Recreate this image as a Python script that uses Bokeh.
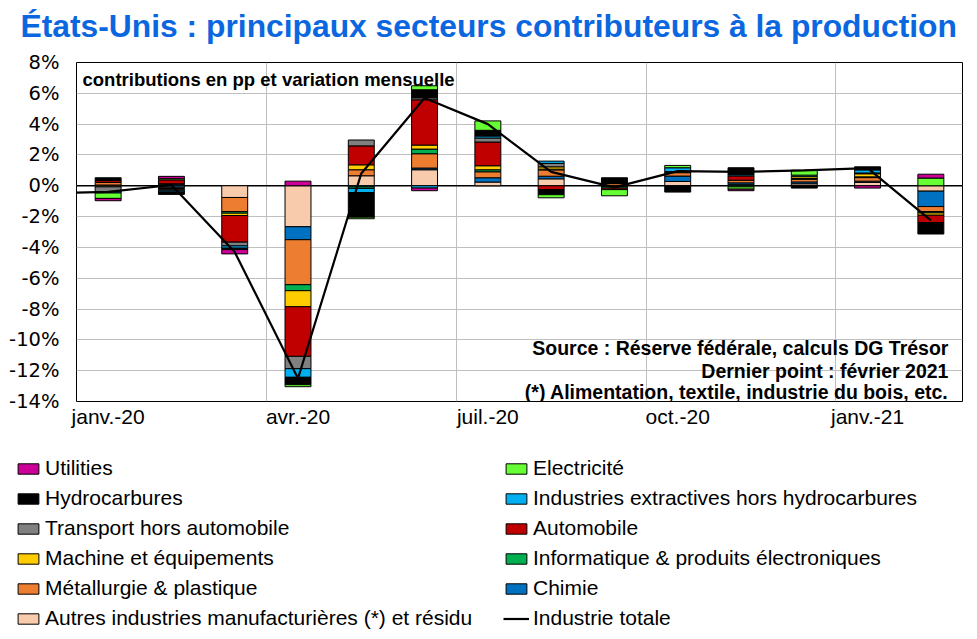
from bokeh.plotting import figure
from bokeh.layouts import column
from bokeh.models import (ColumnDataSource, Range1d, FixedTicker, Label, Legend,
                          LegendItem, Span)
from bokeh.embed import file_html
from bokeh.resources import INLINE
import numpy as np

# ---------------- data ----------------
months = ["janv.-20", "févr.-20", "mars-20", "avr.-20", "mai-20", "juin-20", "juil.-20",
          "août-20", "sept.-20", "oct.-20", "nov.-20", "déc.-20", "janv.-21", "févr.-21"]

autres       = [0.05, 0.10, -0.76, -2.66, 0.65, 1.04, 0.24, 0.45, 0.03, 0.28, 0.07, 0.13, 0.22, -0.35]
chimie       = [0.00, -0.10, 0.00, -0.84, -0.07, 0.11, 0.28, 0.17, -0.05, 0.35, 0.12, 0.12, 0.08, -1.00]
metallurgie  = [0.17, -0.08, -0.91, -2.92, 0.39, 0.93, 0.39, 0.41, 0.12, 0.22, 0.17, 0.17, 0.23, -0.32]
informatique = [0.00, 0.03, -0.11, -0.39, -0.10, 0.30, 0.13, 0.05, -0.10, 0.07, -0.07, 0.05, 0.05, -0.09]
machine      = [-0.07, -0.05, -0.15, -1.04, 0.32, 0.26, 0.26, 0.15, 0.00, 0.00, 0.00, 0.12, 0.20, -0.15]
automobile   = [0.12, 0.25, -1.73, -3.22, 1.23, 2.94, 1.54, -0.25, -0.10, 0.00, 0.28, 0.00, 0.05, -0.48]
transport    = [-0.32, -0.10, -0.24, -0.80, 0.38, 0.13, 0.26, 0.22, 0.00, 0.00, 0.00, 0.00, 0.00, 0.00]
extractives  = [-0.08, -0.08, -0.15, -0.56, -0.27, -0.15, 0.13, 0.15, 0.00, 0.25, 0.08, 0.10, 0.20, 0.00]
hydrocarbures = [0.18, -0.15, -0.09, -0.48, -1.60, 0.52, 0.37, -0.33, 0.37, -0.41, 0.45, -0.15, 0.20, -0.74]
electricite  = [-0.35, 0.08, 0.00, -0.13, -0.10, 0.26, 0.61, -0.20, -0.40, 0.15, -0.15, 0.32, 0.00, 0.50]
utilities    = [-0.15, 0.15, -0.28, 0.30, 0.00, -0.17, 0.00, 0.00, 0.00, 0.00, -0.10, 0.00, -0.15, 0.25]

total_prev = -0.5   # déc.-19
total = [-0.40, 0.05, -4.30, -12.50, 0.80, 5.70, 4.00, 0.90, -0.10, 0.95, 0.90, 1.00, 1.15, -2.25]

y_ticks = [-14, -12, -10, -8, -6, -4, -2, 0, 2, 4, 6, 8]

# stacking order (closest to zero first)
series = [
    ("Autres industries manufacturières (*) et résidu", autres, "#F8CBAD"),
    ("Chimie", chimie, "#0070C0"),
    ("Métallurgie & plastique", metallurgie, "#ED7D31"),
    ("Informatique & produits électroniques", informatique, "#00B050"),
    ("Machine et équipements", machine, "#FFCC00"),
    ("Automobile", automobile, "#C00000"),
    ("Transport hors automobile", transport, "#808080"),
    ("Industries extractives hors hydrocarbures", extractives, "#00B0F0"),
    ("Hydrocarbures", hydrocarbures, "#000000"),
    ("Electricité", electricite, "#66FF33"),
    ("Utilities", utilities, "#CC0099"),
]
colors = {name: c for name, _, c in series}

W = 970


def no_align(fig):
    try:
        fig.frame_align = False
    except Exception:
        pass


# ---------------- title ----------------
pt = figure(width=W, height=50, x_range=Range1d(0, W), y_range=Range1d(0, 50),
            output_backend="svg", toolbar_location=None, min_border=0,
            x_axis_location=None, y_axis_location=None)
no_align(pt)
pt.grid.visible = False
pt.outline_line_color = None
pt.add_layout(Label(x=20, y=25, text="États-Unis : principaux secteurs contributeurs à la production",
                    text_font="Liberation Sans", text_font_style="bold", text_font_size="31.8px",
                    text_color="#0B67E0", text_baseline="alphabetic"))

# ---------------- main chart ----------------
p = figure(width=W, height=400, x_range=Range1d(-0.5, 13.5), y_range=Range1d(-14, 8),
           output_backend="svg", toolbar_location=None,
           min_border_left=76, min_border_right=8, min_border_top=12, min_border_bottom=49)
no_align(p)
p.background_fill_color = "white"
p.border_fill_color = "white"
p.outline_line_color = "black"
p.outline_line_width = 1

p.ygrid.ticker = FixedTicker(ticks=y_ticks)
p.ygrid.grid_line_color = "#BFBFBF"
p.ygrid.grid_line_width = 1
p.xgrid.ticker = FixedTicker(ticks=[2.5, 5.5, 8.5, 11.5])
p.xgrid.grid_line_color = "#BFBFBF"
p.xgrid.grid_line_width = 1

p.yaxis.ticker = FixedTicker(ticks=y_ticks)
p.yaxis.major_label_overrides = {t: f"{t}%" for t in y_ticks}
p.yaxis.major_label_text_font = "DejaVu Sans"
p.yaxis.major_label_text_font_size = "19.5px"
p.yaxis.major_label_text_color = "black"
p.yaxis.axis_line_color = None
p.yaxis.major_tick_line_color = None
p.yaxis.minor_tick_line_color = None
p.yaxis.major_tick_out = 0
p.yaxis.major_tick_in = 0
p.yaxis.major_label_standoff = 17

xt = list(range(0, len(months), 3))
p.xaxis.ticker = FixedTicker(ticks=xt)
p.xaxis.major_label_overrides = {i: months[i] for i in xt}
p.xaxis.major_label_text_font = "Liberation Sans"
p.xaxis.major_label_text_font_size = "21px"
p.xaxis.major_label_text_color = "black"
p.xaxis.axis_line_color = None
p.xaxis.major_tick_line_color = None
p.xaxis.minor_tick_line_color = None
p.xaxis.major_tick_out = 0
p.xaxis.major_tick_in = 0
p.xaxis.major_label_standoff = 3

p.add_layout(Span(location=0, dimension="width", line_color="black", line_width=1.5,
                  level="underlay"))

n = len(months)
xs = np.arange(n)
pos = np.zeros(n)
neg = np.zeros(n)
for name, vals, color in series:
    v = np.array(vals, dtype=float)
    bottom = np.where(v >= 0, pos, neg)
    top = bottom + v
    pos = np.where(v >= 0, pos + v, pos)
    neg = np.where(v < 0, neg + v, neg)
    m = v != 0
    src = ColumnDataSource(dict(x=xs[m], bottom=bottom[m], top=top[m]))
    p.vbar(x="x", bottom="bottom", top="top", width=0.41, source=src,
           fill_color=color, line_color="black", line_width=1)

lx = np.concatenate([[-1], xs])
ly = np.concatenate([[total_prev], total])
p.line(lx, ly, line_color="black", line_width=2.2)

p.add_layout(Label(x=-0.405, y=6.9, text="contributions en pp et variation mensuelle",
                   text_font="Liberation Sans", text_font_style="bold", text_font_size="18.5px",
                   text_color="black", text_baseline="alphabetic"))
notes = ["Source : Réserve fédérale, calculs DG Trésor",
         "Dernier point : février 2021",
         "(*) Alimentation, textile, industrie du bois, etc."]
for txt, yy in zip(notes, [-10.56, -11.99, -13.41]):
    p.add_layout(Label(x=13.278, y=yy, text=txt, text_font="Liberation Sans",
                       text_font_style="bold", text_font_size="19.5px", text_color="black",
                       text_align="right", text_baseline="alphabetic"))

# ---------------- legend ----------------
pl = figure(width=W, height=189, x_range=Range1d(0, 1), y_range=Range1d(0, 1),
            output_backend="svg", toolbar_location=None,
            min_border_left=15, min_border_top=6, min_border_right=0, min_border_bottom=0,
            x_axis_location=None, y_axis_location=None)
no_align(pl)
pl.grid.visible = False
pl.outline_line_color = None

order = ["Utilities", "Hydrocarbures", "Transport hors automobile", "Machine et équipements",
         "Métallurgie & plastique", "Autres industries manufacturières (*) et résidu",
         "Electricité", "Industries extractives hors hydrocarbures", "Automobile",
         "Informatique & produits électroniques", "Chimie", "Industrie totale"]
# legend keys: one hidden sample each, placed outside the visible range
key_x = [-5.0]
key_y = [-5.0]
items = []
for k in order:
    if k == "Industrie totale":
        r = pl.line(x=key_x + [-4.0], y=key_y + [-5.0], line_color="black", line_width=2.2)
    else:
        r = pl.vbar(x=key_x, top=key_y, bottom=[-4.0], width=0.5, fill_color=colors[k],
                    line_color="black", line_width=1)
    items.append(LegendItem(label=k, renderers=[r]))

legend = Legend(items=items, location="top_left", orientation="vertical", nrows=6,
                glyph_width=26, glyph_height=13, label_standoff=4, spacing=6,
                label_width=452, padding=0, margin=0,
                label_text_font="Liberation Sans", label_text_font_size="21px",
                label_text_color="black", border_line_color=None,
                background_fill_alpha=0)
pl.add_layout(legend)

layout = column(pt, p, pl, spacing=0)
open("out.html", "w").write(file_html(layout, INLINE))
